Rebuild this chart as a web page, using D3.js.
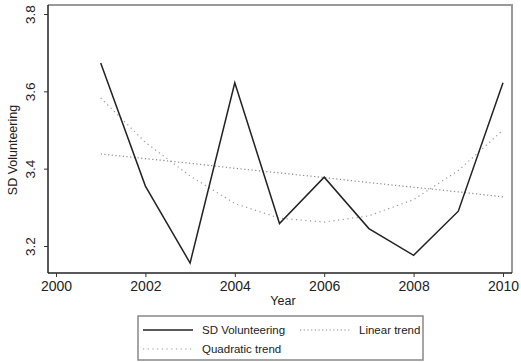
<!DOCTYPE html>
<html>
<head>
<meta charset="utf-8">
<script src="https://cdn.jsdelivr.net/npm/d3@7"></script>
<style>
    body { margin: 0; background: #fff; }
    svg { display: block; font-family: "Liberation Sans", Arial, sans-serif; }
</style>
</head>
<body>
<div id="chart"></div>
<script>
// Values
const years = [2001, 2002, 2003, 2004, 2005, 2006, 2007, 2008, 2009, 2010];
const sdVolunteering = [3.673, 3.355, 3.156, 3.622, 3.258, 3.378, 3.245, 3.176, 3.290, 3.622];
const linearTrend = [3.438, 3.426, 3.414, 3.401, 3.389, 3.377, 3.364, 3.352, 3.340, 3.327];
const quadraticTrend = [3.583, 3.468, 3.381, 3.310, 3.272, 3.262, 3.278, 3.320, 3.395, 3.500];
const xTicks = [2000, 2002, 2004, 2006, 2008, 2010];
const yTicks = [3.2, 3.4, 3.6, 3.8];

const W = 521, H = 362;
const svg = d3.select('#chart').append('svg').attr('width', W).attr('height', H);

const x = d3.scaleLinear().domain([2000, 2010]).range([56, 503]);
const y = d3.scaleLinear().domain([3.2, 3.8]).range([246, 14]);

const plotL = 48, plotR = 512, plotT = 5, plotB = 273;

// Frame: grey top/right, black axes
svg.append('path')
    .attr('d', `M${plotL},${plotT}H${plotR}V${plotB}`)
    .attr('fill', 'none').attr('stroke', '#999').attr('stroke-width', 2);

// Y axis
const yAxis = svg.append('g').attr('transform', `translate(${plotL},0)`)
    .call(d3.axisLeft(y).tickValues(yTicks).tickSize(4).tickFormat(d3.format('.1f')));
yAxis.select('.domain').attr('d', `M0,${plotT}V${plotB}`).attr('stroke', '#222').attr('stroke-width', 1.5);
yAxis.selectAll('.tick line').attr('stroke', '#333');
yAxis.selectAll('.tick text')
    .attr('x', null).attr('dy', null)
    .attr('transform', 'translate(-13,0) rotate(-90)')
    .attr('text-anchor', 'middle')
    .attr('font-size', 13.5).attr('fill', '#222')
    .attr('font-family', 'inherit');

// X axis
const xAxis = svg.append('g').attr('transform', `translate(0,${plotB})`)
    .call(d3.axisBottom(x).tickValues(xTicks).tickSize(4).tickFormat(d3.format('d')));
xAxis.select('.domain').attr('d', `M${plotL},0H${plotR}`).attr('stroke', '#222').attr('stroke-width', 1.5);
xAxis.selectAll('.tick line').attr('stroke', '#333');
xAxis.selectAll('.tick text')
    .attr('y', 8).attr('dy', '0.71em')
    .attr('font-size', 14).attr('fill', '#222')
    .attr('font-family', 'inherit');

// Axis titles
svg.append('text')
    .attr('transform', 'translate(17,150) rotate(-90)')
    .attr('text-anchor', 'middle').attr('font-size', 12.5).attr('fill', '#222')
    .text('SD Volunteering');
svg.append('text')
    .attr('x', 283).attr('y', 305)
    .attr('text-anchor', 'middle').attr('font-size', 12.5).attr('fill', '#222')
    .text('Year');

const line = d3.line().x((d, i) => x(years[i])).y(d => y(d));

// Trends then main series
svg.append('path').datum(linearTrend)
    .attr('fill', 'none').attr('stroke', '#888').attr('stroke-width', 1.2)
    .attr('stroke-dasharray', '1.2,2.5').attr('d', line);
svg.append('path').datum(quadraticTrend)
    .attr('fill', 'none').attr('stroke', '#999').attr('stroke-width', 1.2)
    .attr('stroke-dasharray', '1.2,3.5').attr('d', line);
svg.append('path').datum(sdVolunteering)
    .attr('fill', 'none').attr('stroke', '#222').attr('stroke-width', 1.5)
    .attr('stroke-linejoin', 'miter').attr('d', line);

// Legend
const lg = svg.append('g');
lg.append('rect')
    .attr('x', 138).attr('y', 316).attr('width', 285).attr('height', 44)
    .attr('fill', '#fff').attr('stroke', '#888').attr('stroke-width', 1.5);

const legendItems = [
    { label: 'SD Volunteering', x: 143, y: 330, stroke: '#222', dash: null, w: 1.5 },
    { label: 'Linear trend', x: 300, y: 330, stroke: '#888', dash: '1.2,2.5', w: 1.2 },
    { label: 'Quadratic trend', x: 143, y: 349, stroke: '#999', dash: '1.2,3.5', w: 1.2 }
];
legendItems.forEach(it => {
    lg.append('line')
        .attr('x1', it.x).attr('x2', it.x + 50).attr('y1', it.y).attr('y2', it.y)
        .attr('stroke', it.stroke).attr('stroke-width', it.w)
        .attr('stroke-dasharray', it.dash);
    lg.append('text')
        .attr('x', it.x + 59).attr('y', it.y).attr('dy', '0.35em')
        .attr('font-size', 11.5).attr('fill', '#222')
        .text(it.label);
});
</script>
</body>
</html>
